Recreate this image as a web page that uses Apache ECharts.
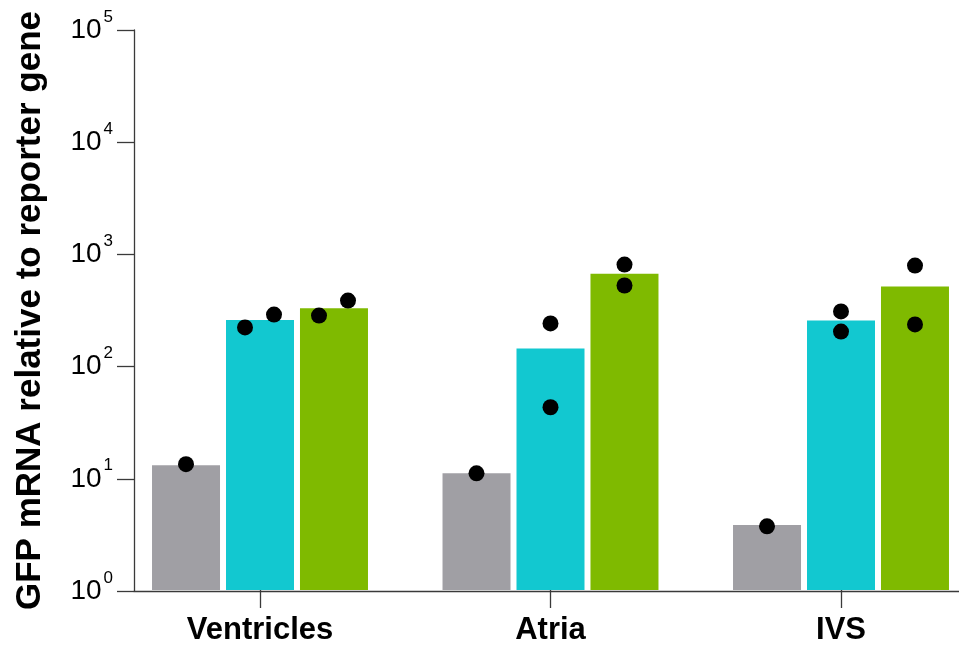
<!DOCTYPE html>
<html>
<head>
<meta charset="utf-8">
<script src="https://cdn.jsdelivr.net/npm/echarts@6/dist/echarts.min.js"></script>
<style>html,body{margin:0;padding:0;background:#fff}#c{width:959px;height:646px}</style>
</head>
<body>
<div id="c"></div>
<script>
const categories = ['Ventricles', 'Atria', 'IVS'];
const grayBar = [13, 11, 3.8];
const cyanBar = [258, 143, 255];
const greenBar = [328, 668, 512];
const grayPts = [[13.3], [11], [3.7]];
const cyanPts = [[221, 288], [42.8, 240], [203, 307]];
const greenPts = [[282, 384], [523, 805], [235, 788]];
const yTickExponents = [0, 1, 2, 3, 4, 5];

const GRAY = '#a09fa4', CYAN = '#12c8d0', GREEN = '#7fba00', AXIS = '#3a3a3a';
const FONT = 'Liberation Sans';
// horizontal jitter (px) for replicate dots, Ventricles only
const jitter = [[-15, 14], [0, 0], [0, 0]];

function pts(arr, barShift, useJitter) {
  const out = [];
  arr.forEach((vals, ci) => {
    vals.forEach((v, k) => {
      const j = useJitter ? (jitter[ci][k] || 0) : 0;
      out.push({ value: [ci, v], symbolOffset: [barShift + j, 0] });
    });
  });
  return out;
}

const chart = echarts.init(document.getElementById('c'), null, { renderer: 'canvas' });
const dotStyle = { color: '#000', opacity: 1 };
chart.setOption({
  animation: false,
  backgroundColor: '#fff',
  grid: [
    { left: 134, right: 0, top: 30, bottom: 55 },
    { left: 260, right: 118, top: 30, bottom: 55 }
  ],
  xAxis: [
    { gridIndex: 0, type: 'value', min: 0, max: 1,
      axisLine: { show: true, onZero: false, lineStyle: { color: AXIS, width: 1.3 } },
      axisTick: { show: false }, axisLabel: { show: false }, splitLine: { show: false } },
    { gridIndex: 1, type: 'category', data: categories, boundaryGap: false,
      axisLine: { show: false },
      axisTick: { show: true, length: 18, lineStyle: { color: AXIS, width: 1.3 } },
      axisLabel: { margin: 25, fontFamily: FONT, fontWeight: 'bold', fontSize: 31, color: '#000' },
      splitLine: { show: false } }
  ],
  yAxis: [
    { gridIndex: 0, type: 'log', logBase: 10, min: 1, max: 100000,
      name: 'GFP mRNA relative to reporter gene', nameLocation: 'middle', nameGap: 86,
      nameTextStyle: { fontFamily: FONT, fontWeight: 'bold', fontSize: 35, color: '#000' },
      axisLine: { show: true, lineStyle: { color: AXIS, width: 1.3 } },
      axisTick: { show: true, length: 17, lineStyle: { color: AXIS, width: 1.3 } },
      minorTick: { show: false },
      splitLine: { show: false },
      axisLabel: {
        margin: 21,
        formatter: function (v) {
          const e = Math.round(Math.log10(v));
          return yTickExponents.indexOf(e) >= 0 ? '{b|10}{s|' + e + '}' : '';
        },
        rich: {
          b: { fontFamily: FONT, fontSize: 28, color: '#000' },
          s: { fontFamily: FONT, fontSize: 17, color: '#000', padding: [0, 0, 26, 2] }
        }
      } },
    { gridIndex: 1, type: 'log', logBase: 10, min: 1, max: 100000, show: false,
      splitLine: { show: false } }
  ],
  series: [
    { type: 'bar', xAxisIndex: 1, yAxisIndex: 1, data: grayBar, barWidth: 68, barGap: '8.8%',
      clip: false, itemStyle: { color: GRAY } },
    { type: 'bar', xAxisIndex: 1, yAxisIndex: 1, data: cyanBar, barWidth: 68, barGap: '8.8%',
      clip: false, itemStyle: { color: CYAN } },
    { type: 'bar', xAxisIndex: 1, yAxisIndex: 1, data: greenBar, barWidth: 68, barGap: '8.8%',
      clip: false, itemStyle: { color: GREEN } },
    { type: 'scatter', xAxisIndex: 1, yAxisIndex: 1, data: pts(grayPts, -74, false), clip: false,
      symbol: 'circle', symbolSize: 16, itemStyle: dotStyle, z: 5 },
    { type: 'scatter', xAxisIndex: 1, yAxisIndex: 1, data: pts(cyanPts, 0, true), clip: false,
      symbol: 'circle', symbolSize: 16, itemStyle: dotStyle, z: 5 },
    { type: 'scatter', xAxisIndex: 1, yAxisIndex: 1, data: pts(greenPts, 74, true), clip: false,
      symbol: 'circle', symbolSize: 16, itemStyle: dotStyle, z: 5 }
  ]
});
</script>
</body>
</html>
